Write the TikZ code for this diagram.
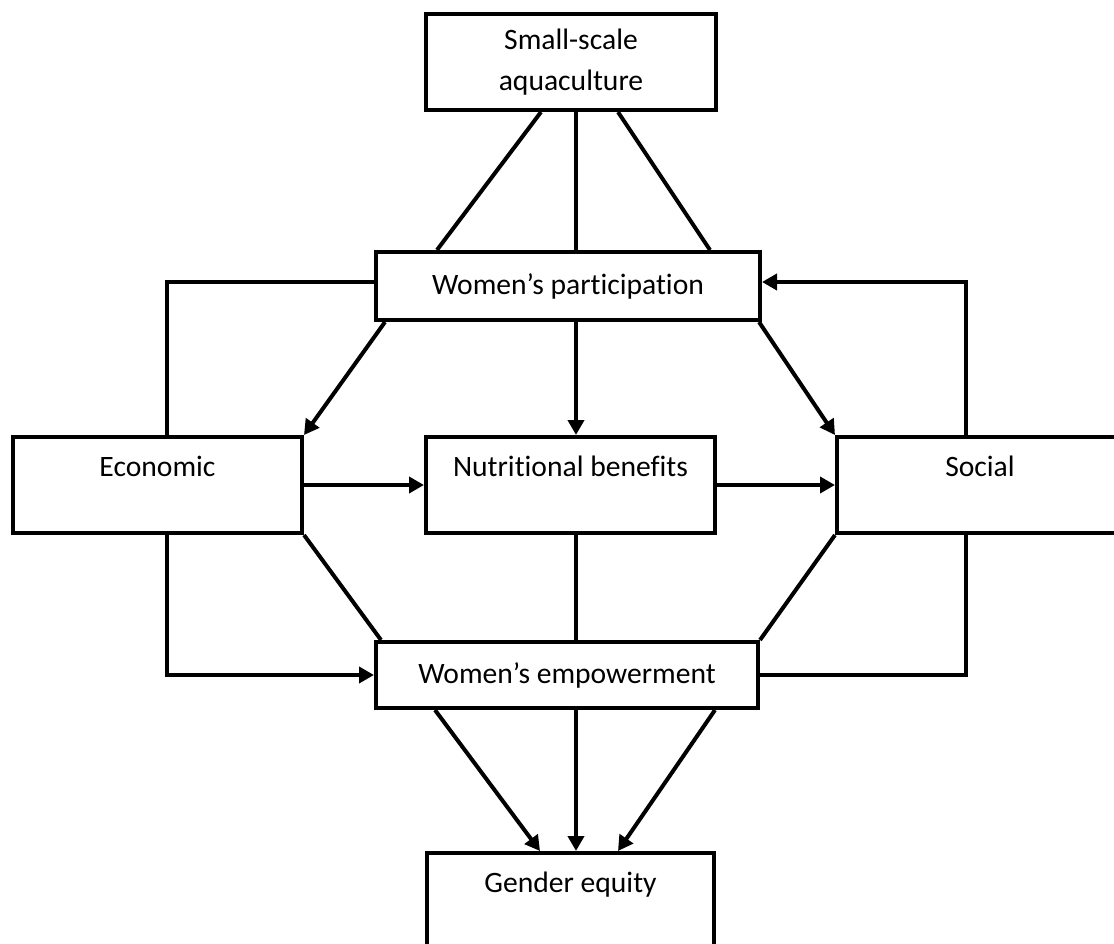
\documentclass[tikz,border=0pt]{standalone}
\usepackage{fontspec}
\setmainfont{Carlito}[Ligatures={NoCommon}]
\usetikzlibrary{arrows.meta}

\begin{document}
\begin{tikzpicture}[x=1pt,y=-1pt,
  font=\fontsize{29.6}{41}\selectfont,
  box/.style={draw, line width=4pt, inner sep=0pt, align=center},
  tall/.style={box, text height=39pt, text depth=57pt},
  wire/.style={line width=4pt},
  arr/.style={wire, -{Triangle[length=15pt,width=16pt]}}]
\useasboundingbox (0,0) rectangle (1114,944);
\node[box, minimum width=290pt, minimum height=96pt] (aqua) at (571,62) {Small-scale\\aquaculture};
\node[box, minimum width=384pt, minimum height=68pt] (part) at (568,286) {Women’s participation};
\node[tall, minimum width=289pt] (econ) at (157.5,485) {Economic};
\node[tall, minimum width=289pt] (nutri) at (570.5,485) {Nutritional benefits};
\node[tall, minimum width=286pt] (social) at (980,485) {Social};
\node[box, minimum width=382pt, minimum height=66pt] (emp) at (567,675) {Women’s empowerment};
\node[tall, minimum width=287pt] (equity) at (570.5,901) {Gender equity};
% aquaculture to participation
\draw[wire] ([xshift=-30pt]aqua.south) -- ([xshift=-131pt]part.north);
\draw[wire] ([xshift=5pt]aqua.south) -- ([xshift=8pt]part.north);
\draw[wire] ([xshift=47pt]aqua.south) -- ([xshift=142pt]part.north);
% participation to the middle row
\draw[arr] ([xshift=11pt]part.south west) -- (econ.north east);
\draw[arr] ([xshift=8pt]part.south) -- ([xshift=5.5pt]nutri.north);
\draw[arr] ([xshift=-3pt]part.south east) -- (social.north west);
\draw[wire] ([xshift=9.5pt]econ.north) |- ([yshift=4pt]part.west);
\draw[arr] ([xshift=-14pt]social.north) |- ([yshift=4pt]part.east);
\draw[arr] (econ) -- (nutri);
\draw[arr] (nutri) -- (social);
% middle row to empowerment
\draw[wire] (econ.south east) -- ([xshift=7pt]emp.north west);
\draw[arr] ([xshift=9.5pt]econ.south) |- (emp.west);
\draw[wire] ([xshift=5.5pt]nutri.south) -- ([xshift=9pt]emp.north);
\draw[wire] (social.south west) -- (emp.north east);
\draw[wire] ([xshift=-14pt]social.south) |- (emp.east);
% empowerment to gender equity
\draw[arr] ([xshift=-132pt]emp.south) -- ([xshift=-30.5pt]equity.north);
\draw[arr] ([xshift=9pt]emp.south) -- ([xshift=5.5pt]equity.north);
\draw[arr] ([xshift=148pt]emp.south) -- ([xshift=47.5pt]equity.north);
\end{tikzpicture}
\end{document}
